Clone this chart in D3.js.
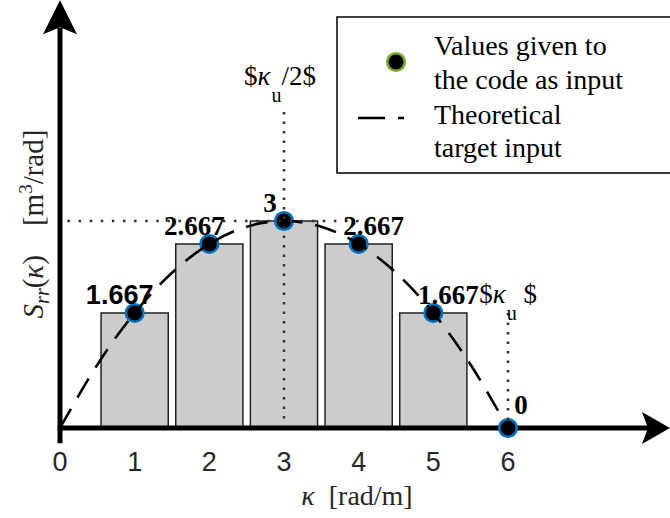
<!DOCTYPE html>
<html>
<head>
<meta charset="utf-8">
<script src="https://cdn.jsdelivr.net/npm/d3@7"></script>
<style>
  html, body { margin: 0; padding: 0; background: #fff; }
  svg { display: block; }
</style>
</head>
<body>
<svg id="chart" width="670" height="518"></svg>
<script>
// Discrete input spectrum: wavenumbers and ordinates handed to the code
const kappa = [1, 2, 3, 4, 5, 6];
const sInput = [1.667, 2.667, 3, 2.667, 1.667, 0];
const valueLabels = ["1.667", "2.667", "3", "2.667", "1.667", "0"];

// Bars of the discretised spectrum (one per interior wavenumber)
const barKappa = [1, 2, 3, 4, 5];
const barValues = [1.667, 2.667, 3, 2.667, 1.667];

// Theoretical target spectrum, sampled every 0.5 rad/m
const kappaTheory = [0, 0.5, 1, 1.5, 2, 2.5, 3, 3.5, 4, 4.5, 5, 5.5, 6];
const sTheory = [0, 0.917, 1.667, 2.25, 2.667, 2.917, 3, 2.917, 2.667, 2.25, 1.667, 0.917, 0];

// Axis ticks
const xTicks = [0, 1, 2, 3, 4, 5, 6];

// Reference guides: kappa_u/2 and kappa_u
const guideKappa = [3, 6];
const guideTop = [4.58, 1.667];

const SERIF = "'Liberation Serif', 'Times New Roman', Times, serif";
const SANS = "'Liberation Sans', Arial, Helvetica, sans-serif";

const svg = d3.select("#chart");

const x = d3.scaleLinear().domain([0, 8.17]).range([60, 670]);
const y = d3.scaleLinear().domain([0, 6.2]).range([428, 0.2]);

const barW = x(0.9) - x(0);

// Bars
svg.append("g").selectAll("rect")
  .data(barKappa.map((k, i) => ({ k, v: barValues[i] })))
  .join("rect")
  .attr("x", d => x(d.k) - barW / 2)
  .attr("y", d => y(d.v))
  .attr("width", barW)
  .attr("height", d => y(0) - y(d.v))
  .attr("fill", "#cccccc")
  .attr("stroke", "#222")
  .attr("stroke-width", 1.5);

// Axes with arrowheads
const axisColor = "#000";
svg.append("line")
  .attr("x1", x(-0.03)).attr("x2", x(7.9))
  .attr("y1", y(0)).attr("y2", y(0))
  .attr("stroke", axisColor).attr("stroke-width", 5);
svg.append("line")
  .attr("x1", x(0)).attr("x2", x(0))
  .attr("y1", y(-0.22)).attr("y2", y(5.8))
  .attr("stroke", axisColor).attr("stroke-width", 5);

// y arrowhead
{
  const tx = x(0), ty = y(6.2);
  svg.append("path")
    .attr("d", `M${tx},${ty} L${tx + 17},${ty + 34} L${tx},${ty + 27} L${tx - 17},${ty + 34} Z`)
    .attr("fill", axisColor);
}
// x arrowhead
{
  const tx = x(8.17), ty = y(0);
  svg.append("path")
    .attr("d", `M${tx},${ty} L${tx - 28},${ty - 16} L${tx - 22},${ty} L${tx - 28},${ty + 16} Z`)
    .attr("fill", axisColor);
}

// Tick labels
svg.append("g").selectAll("text")
  .data(xTicks)
  .join("text")
  .attr("x", d => x(d))
  .attr("y", 471)
  .attr("text-anchor", "middle")
  .attr("font-family", SANS)
  .attr("font-size", 27)
  .attr("fill", "#262626")
  .text(d => d);

// Points
svg.append("g").selectAll("circle")
  .data(kappa.map((k, i) => ({ k, v: sInput[i] })))
  .join("circle")
  .attr("cx", d => x(d.k))
  .attr("cy", d => y(d.v))
  .attr("r", 8.8)
  .attr("fill", "#000")
  .attr("stroke", "#0072BD")
  .attr("stroke-width", 2.6);

// Theoretical curve
const line = d3.line()
  .x((d, i) => x(kappaTheory[i]))
  .y(d => y(d))
  .curve(d3.curveNatural);
svg.append("path")
  .attr("d", line(sTheory))
  .attr("fill", "none")
  .attr("stroke", "#000")
  .attr("stroke-width", 2.6)
  .attr("stroke-dasharray", "22,13");

// Dotted guides
svg.append("line")
  .attr("x1", x(0.1)).attr("x2", x(4))
  .attr("y1", y(3)).attr("y2", y(3))
  .attr("stroke", "#333").attr("stroke-width", 2.5)
  .attr("stroke-dasharray", "2.5,8.6");
svg.append("g").selectAll("line")
  .data(guideKappa.map((k, i) => ({ k, top: guideTop[i] })))
  .join("line")
  .attr("x1", d => x(d.k)).attr("x2", d => x(d.k))
  .attr("y1", d => y(d.top)).attr("y2", y(0.1))
  .attr("stroke", "#333").attr("stroke-width", 2.5)
  .attr("stroke-dasharray", "2.5,7");

// Value labels
svg.append("g").selectAll("text")
  .data(kappa.map((k, i) => ({ k, v: sInput[i], t: valueLabels[i], i })))
  .join("text")
  .attr("x", d => x(d.k) + (d.k < 3 ? -15 : d.k === 3 ? -14 : d.k === 6 ? 13 : 15))
  .attr("y", d => y(d.v) - (d.k === 6 ? 14 : 9))
  .attr("text-anchor", "middle")
  .attr("font-family", d => d.i === 0 ? SANS : SERIF)
  .attr("font-weight", "bold")
  .attr("font-size", 27)
  .attr("fill", "#000")
  .text(d => d.t);

// Guide labels
function kappaLabel(px, py, after) {
  const t = svg.append("text")
    .attr("x", px).attr("y", py)
    .attr("font-family", SERIF)
    .attr("font-size", 27)
    .attr("fill", "#000");
  t.append("tspan").text("$");
  t.append("tspan").attr("font-style", "italic").text("κ");
  t.append("tspan").attr("font-size", 20).attr("dy", 17).attr("dx", 1).text("u");
  t.append("tspan").attr("dy", -17).text(after);
}
kappaLabel(x(3) - 40, 85, "/2$");
kappaLabel(x(5) + 46, 303, " $");

// Legend
const lg = svg.append("g");
lg.append("rect")
  .attr("x", 337).attr("y", 17)
  .attr("width", 340).attr("height", 156)
  .attr("fill", "#fff")
  .attr("stroke", "#000").attr("stroke-width", 1.5);
lg.append("circle")
  .attr("cx", 396).attr("cy", 62).attr("r", 8.8)
  .attr("fill", "#000").attr("stroke", "#77AC30").attr("stroke-width", 2.6);
lg.append("line")
  .attr("x1", 358).attr("x2", 404).attr("y1", 118).attr("y2", 118)
  .attr("stroke", "#000").attr("stroke-width", 2.6)
  .attr("stroke-dasharray", "27,13");
const legendLines = ["Values given to", "the code as input", "Theoretical", "target input"];
const legendBase = [55, 89, 124, 157];
lg.selectAll("text.leg")
  .data(legendLines)
  .join("text")
  .attr("class", "leg")
  .attr("x", 434)
  .attr("y", (d, i) => legendBase[i])
  .attr("font-family", SERIF)
  .attr("font-size", 28)
  .attr("fill", "#000")
  .text(d => d);

// Axis titles
{
  const t = svg.append("text")
    .attr("x", 357).attr("y", 505)
    .attr("text-anchor", "middle")
    .attr("font-family", SERIF)
    .attr("font-size", 28)
    .attr("fill", "#262626");
  t.append("tspan").attr("font-style", "italic").text("κ");
  t.append("tspan").text("\u2002[rad/m]");
}
{
  const t = svg.append("text")
    .attr("transform", "translate(43,224) rotate(-90)")
    .attr("text-anchor", "middle")
    .attr("font-family", SERIF)
    .attr("font-size", 29)
    .attr("fill", "#262626");
  t.append("tspan").attr("font-style", "italic").text("S");
  t.append("tspan").attr("font-style", "italic").attr("font-size", 20).attr("dy", 6).text("rr");
  t.append("tspan").attr("dy", -6).text("(");
  t.append("tspan").attr("font-style", "italic").text("κ");
  t.append("tspan").text(")\u2003[m");
  t.append("tspan").attr("font-size", 19).attr("dy", -11).text("3");
  t.append("tspan").attr("dy", 11).text("/rad]");
}
</script>
</body>
</html>
